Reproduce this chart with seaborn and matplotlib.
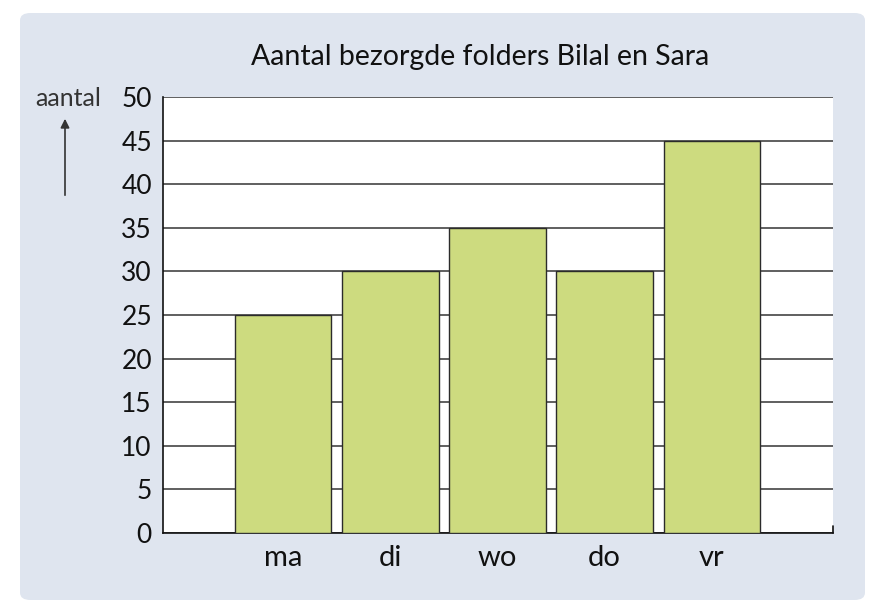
import seaborn as sns
import matplotlib.pyplot as plt
from matplotlib.patches import FancyBboxPatch, FancyArrowPatch

# data
days = ["ma", "di", "wo", "do", "vr"]
folders = [25, 30, 35, 30, 45]
y_ticks = [0, 5, 10, 15, 20, 25, 30, 35, 40, 45, 50]

sns.set_style("white")
plt.rcParams['font.family'] = ['Lato', 'DejaVu Sans']

fig = plt.figure(figsize=(8.75, 6.13), dpi=100)
fig.patch.set_facecolor("white")

# rounded light panel behind everything
panel = FancyBboxPatch((20 / 875, 13 / 613), 845 / 875, 587 / 613,
                       boxstyle="round,pad=0,rounding_size=0.012",
                       transform=fig.transFigure, facecolor="#dfe5ef",
                       edgecolor="none", zorder=-10)
fig.add_artist(panel)

ax = fig.add_axes([163 / 875, 80 / 613, 670 / 875, 436 / 613])
ax.set_zorder(1)
ax.set_facecolor("white")

sns.barplot(x=days, y=folders, color="#cddb7f", width=0.9,
            edgecolor="#2b2b2b", linewidth=1.0, saturation=1, ax=ax, zorder=3)

ax.set_xlim(-1.12, 4 + 1.13)
ax.set_ylim(0, 50)
ax.set_yticks(y_ticks)
ax.grid(True, axis="y", color="#444444", linewidth=1.2, zorder=1)
ax.set_axisbelow(True)

for side in ["top", "right"]:
    ax.spines[side].set_visible(False)
for side in ["left", "bottom"]:
    ax.spines[side].set_color("#111111")
    ax.spines[side].set_linewidth(1.2)

ax.tick_params(axis="y", length=0, labelsize=19, colors="#111111", pad=8)
ax.tick_params(axis="x", length=0, labelsize=21, colors="#111111", pad=9)
# small tick at the right end of the x axis
ax.plot([1, 1], [0, 0.015], transform=ax.transAxes, color="#111111",
        linewidth=1.2, clip_on=False)

ax.set_xlabel("")
ax.set_ylabel("")

fig.text(480 / 875, 1 - 57 / 613, "Aantal bezorgde folders Bilal en Sara",
         ha="center", va="center", fontsize=20.5, color="#111111", zorder=5)
fig.text(68 / 875, 1 - 98 / 613, "aantal", ha="center", va="center",
         fontsize=18, color="#333333", zorder=5)
fig.add_artist(FancyArrowPatch(
    (65 / 875, 1 - 198 / 613), (65 / 875, 1 - 116 / 613),
    transform=fig.transFigure, arrowstyle="-|>", color="#333333", lw=1.2,
    mutation_scale=13, zorder=5))

plt.savefig("out.png", dpi=100)
